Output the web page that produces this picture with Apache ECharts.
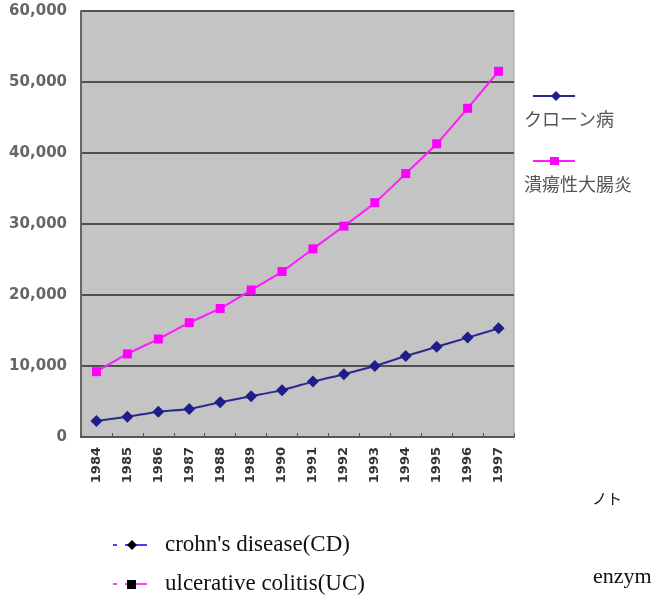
<!DOCTYPE html>
<html><head><meta charset="utf-8">
<script src="https://cdn.jsdelivr.net/npm/echarts@6/dist/echarts.min.js"></script>
<style>html,body{margin:0;padding:0;background:#fff}#c{width:664px;height:596px}</style>
</head><body><div id="c"></div>
<script>
const years = ['1984','1985','1986','1987','1988','1989','1990','1991','1992','1993','1994','1995','1996','1997'];
const crohn = [2250,2850,3550,3950,4900,5750,6600,7800,8850,10000,11400,12700,14000,15300];
const uc = [9200,11700,13800,16100,18100,20700,23300,26500,29700,33000,37100,41300,46300,51500];
const yTicks = [0,10000,20000,30000,40000,50000,60000];
const nameCD = 'クローン病';
const nameUC = '潰瘍性大腸炎';

const chart = echarts.init(document.getElementById('c'));
const fmt = v => v.toLocaleString('en-US');
const serifText = (x, y, text, size) => ({type: 'text', x: x, y: y,
  style: {text: text, fontSize: size, fill: '#111', fontFamily: 'Liberation Serif', verticalAlign: 'middle', textVerticalAlign: 'middle'}});
chart.setOption({
  animation: false,
  backgroundColor: '#fff',
  grid: {left: 81, top: 11, width: 433, height: 426, show: true, backgroundColor: '#c4c4c4', borderColor: '#a0a0a0', borderWidth: 1},
  xAxis: {
    type: 'category', data: years, boundaryGap: true,
    axisLine: {lineStyle: {color: '#555', width: 2}},
    axisTick: {show: true, inside: true, length: 4, lineStyle: {color: '#555'}},
    axisLabel: {rotate: 90, margin: 10, color: '#333', fontFamily: 'DejaVu Sans', fontWeight: 'bold', fontSize: 13}
  },
  yAxis: {
    type: 'value', min: yTicks[0], max: yTicks[yTicks.length-1], interval: 10000,
    axisLine: {show: true, lineStyle: {color: '#666', width: 2}},
    axisTick: {show: false},
    splitLine: {lineStyle: {color: '#505050', width: 2}},
    axisLabel: {margin: 14, color: '#666', fontFamily: 'DejaVu Sans', fontWeight: 'bold', fontSize: 15, formatter: fmt}
  },
  series: [
    {name: nameCD, type: 'line', data: crohn, smooth: 0.2, symbol: 'diamond', symbolSize: 12,
     lineStyle: {color: '#2a2a8e', width: 2}, itemStyle: {color: '#1e1e8a'}},
    {name: nameUC, type: 'line', data: uc, smooth: 0.2, symbol: 'rect', symbolSize: 9,
     lineStyle: {color: '#ff1aff', width: 2}, itemStyle: {color: '#ff00ff'}}
  ],
  graphic: [
    {type: 'line', shape: {x1: 533, y1: 96, x2: 575, y2: 96}, style: {stroke: '#2a2a8e', lineWidth: 2}},
    {type: 'polygon', shape: {points: [[556,91],[561,96],[556,101],[551,96]]}, style: {fill: '#1e1e8a'}},
    {type: 'text', left: 524, top: 110, style: {text: nameCD, fontSize: 18, fill: '#555', fontFamily: 'Noto Sans CJK JP'}},
    {type: 'line', shape: {x1: 533, y1: 161, x2: 575, y2: 161}, style: {stroke: '#ff1aff', lineWidth: 2}},
    {type: 'rect', shape: {x: 550, y: 157, width: 9, height: 8}, style: {fill: '#ff00ff'}},
    {type: 'text', left: 524, top: 175, style: {text: nameUC, fontSize: 18, fill: '#555', fontFamily: 'Noto Sans CJK JP'}},

    {type: 'line', shape: {x1: 113, y1: 545, x2: 117, y2: 545}, style: {stroke: '#0000ff', lineWidth: 1.5}},
    {type: 'line', shape: {x1: 125, y1: 545, x2: 147, y2: 545}, style: {stroke: '#0000ff', lineWidth: 1.5}},
    {type: 'polygon', shape: {points: [[132,540],[137,545],[132,550],[127,545]]}, style: {fill: '#000'}},
    serifText(165, 545, "crohn's disease(CD)", 23),
    {type: 'line', shape: {x1: 113, y1: 584, x2: 117, y2: 584}, style: {stroke: '#ff00ff', lineWidth: 1.5}},
    {type: 'line', shape: {x1: 125, y1: 584, x2: 147, y2: 584}, style: {stroke: '#ff00ff', lineWidth: 1.5}},
    {type: 'rect', shape: {x: 127, y: 580, width: 9, height: 9}, style: {fill: '#000'}},
    serifText(165, 584, 'ulcerative colitis(UC)', 23),
    serifText(593, 577, 'enzym', 22),
    {type: 'text', x: 592, y: 498, style: {text: 'ノト', fontSize: 15, fill: '#111', fontFamily: 'Noto Sans CJK JP', verticalAlign: 'middle', textVerticalAlign: 'middle'}}
  ]
});
</script></body></html>
